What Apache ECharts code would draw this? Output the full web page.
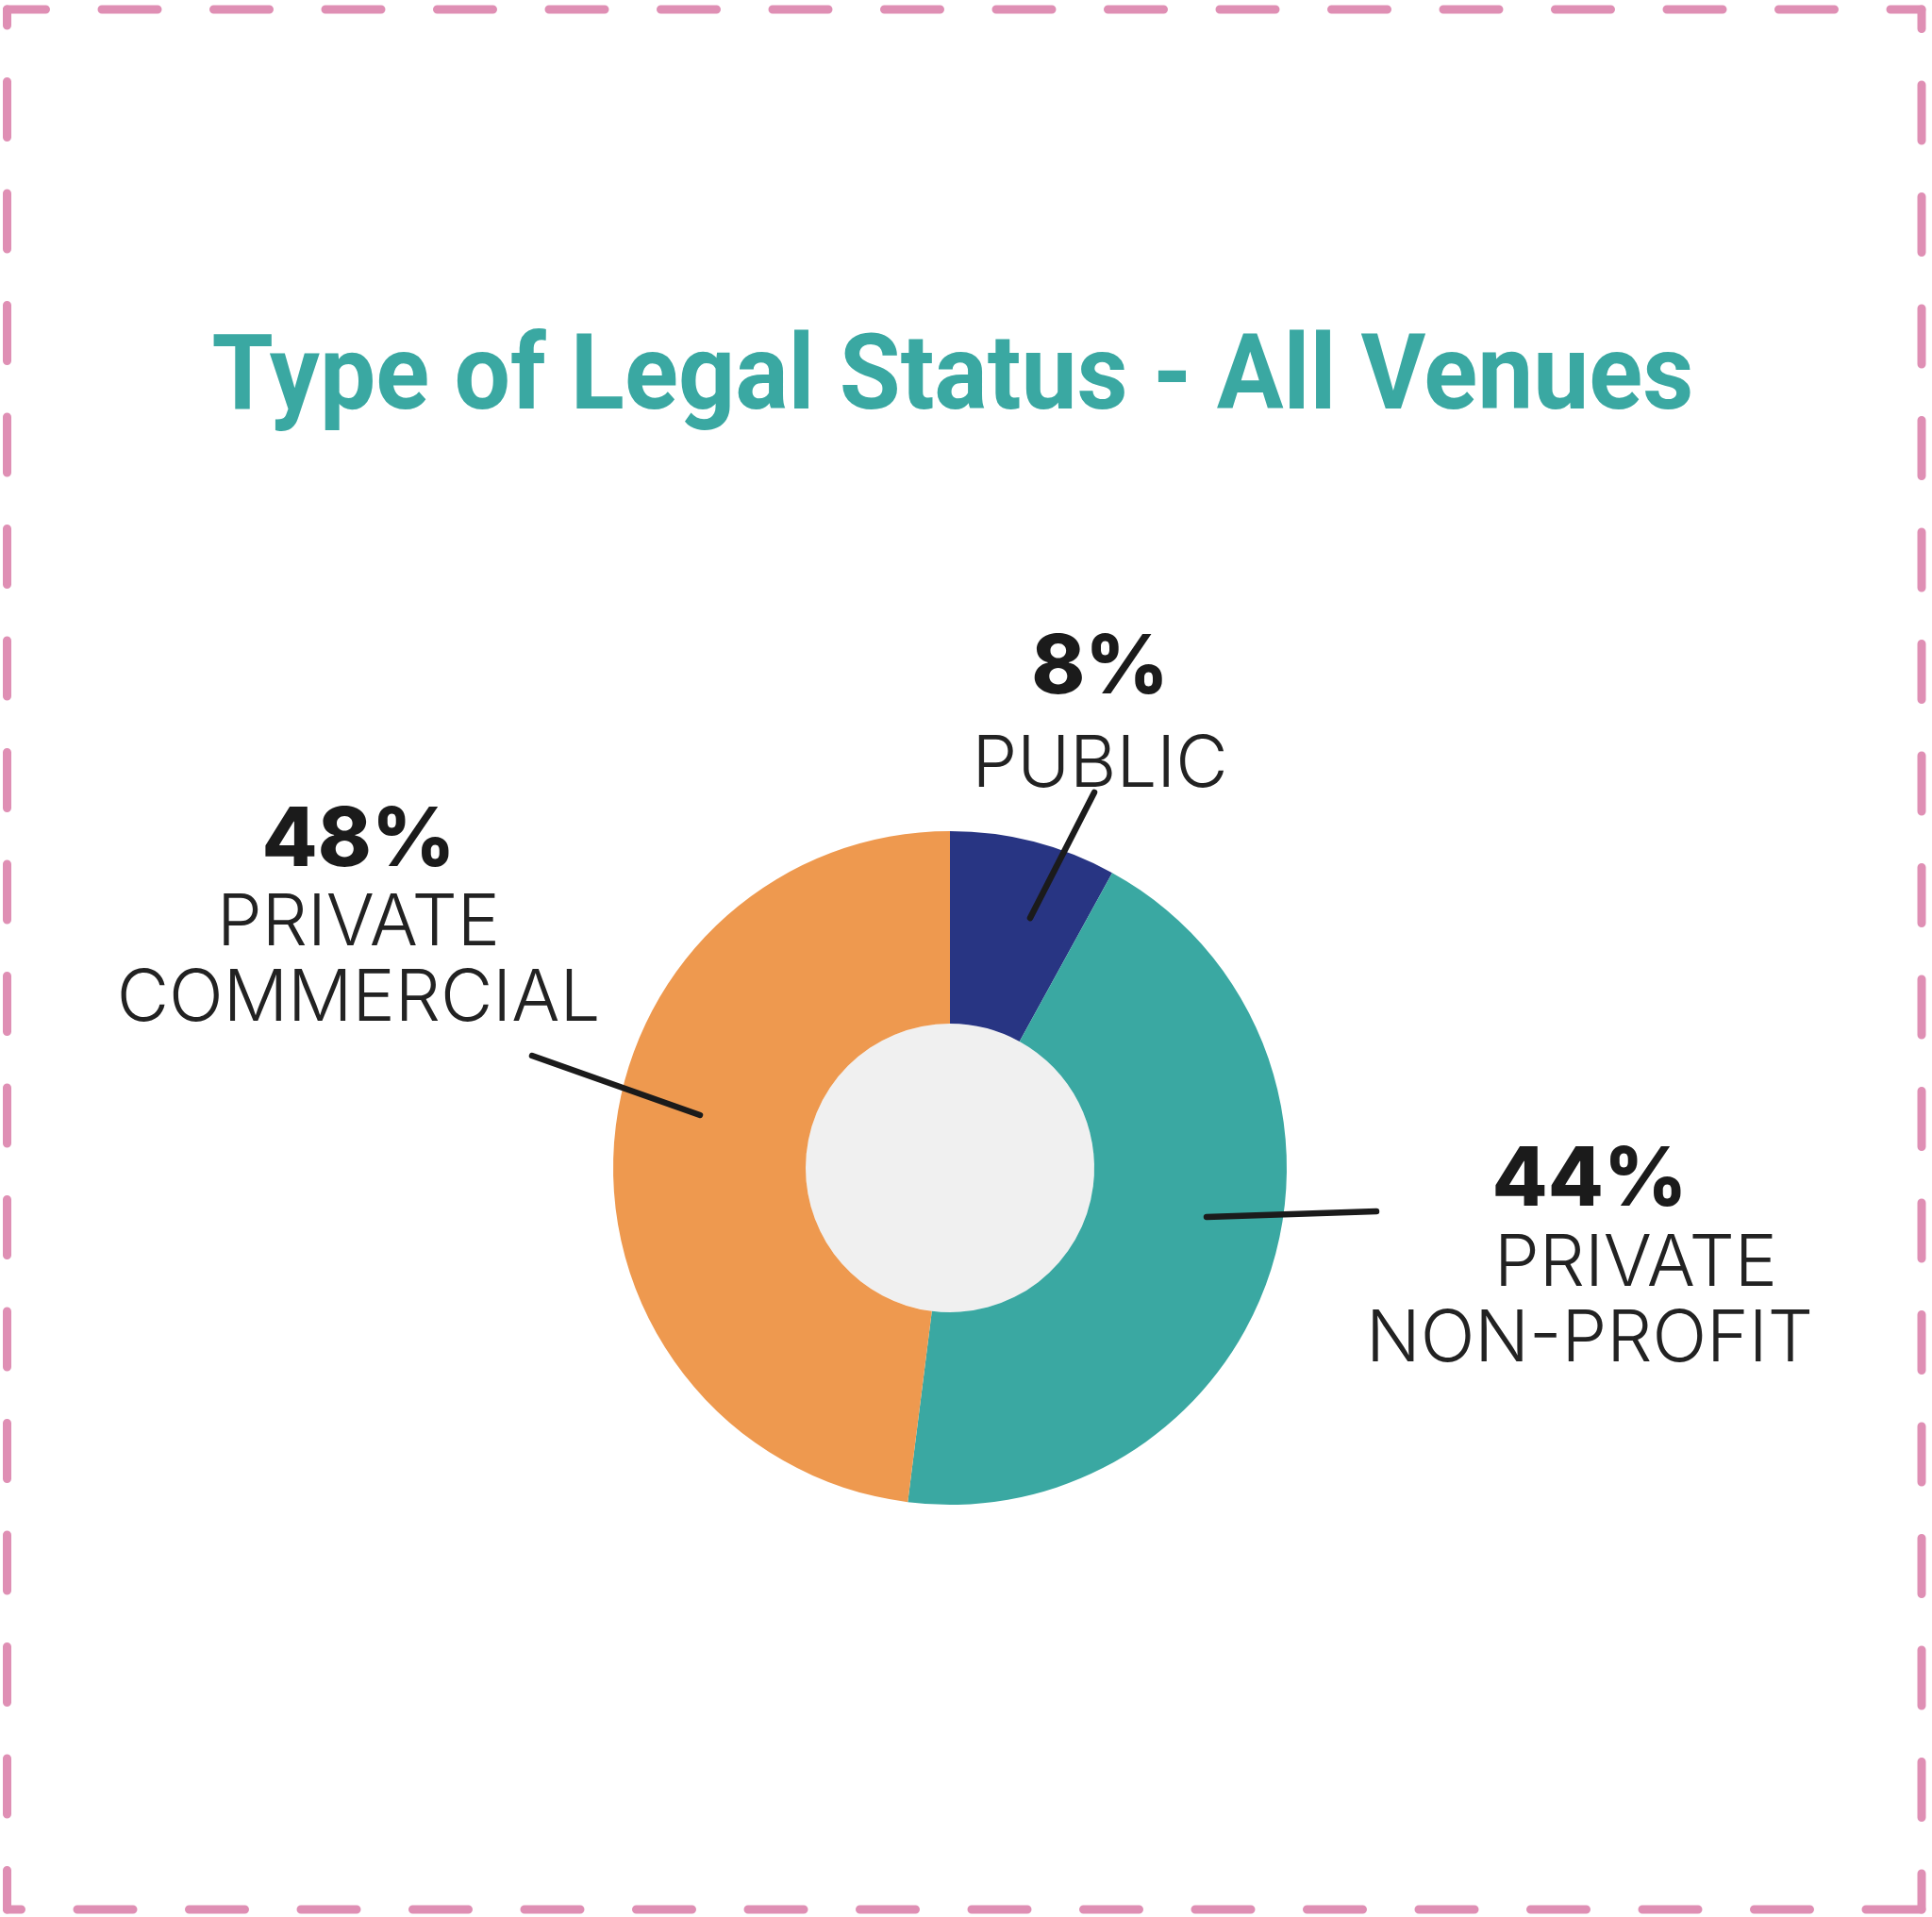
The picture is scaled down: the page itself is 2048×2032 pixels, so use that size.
<!DOCTYPE html>
<html><head><meta charset="utf-8">
<script src="https://cdn.jsdelivr.net/npm/echarts@6/dist/echarts.min.js"></script>
<style>html,body{margin:0;padding:0;background:#fff}#c{width:2048px;height:2032px}</style>
</head><body><div id="c"></div>
<script>
// ---- data ----
const categories = ['PUBLIC', 'PRIVATE NON-PROFIT', 'PRIVATE COMMERCIAL'];
const values = [8, 44, 48];
const nameLines = [['PUBLIC'], ['PRIVATE', 'NON-PROFIT'], ['PRIVATE', 'COMMERCIAL']];
const titleText = 'Type of Legal Status - All Venues';

// ---- styles / layout ----
const colors = ['#283583', '#3aa8a2', '#ee994f'];
const CENTER = [1007, 1238];
const R_IN = 153, R_OUT = 357;
const labelPlacement = [
  { x: 1166, y: 648, pctLH: 123, firstPad: 0, line: [[1092, 973], [1160, 840]] },
  { x: 1685, y: 1204, pctLH: 96, firstPad: 98, line: [[1279, 1290], [1459, 1284]] },
  { x: 380, y: 845, pctLH: 94, firstPad: 0, line: [[742, 1182], [564, 1119]] }
];
const TITLE_FONT_SIZE = 111;
const TITLE_FONT = '700 ' + TITLE_FONT_SIZE + 'px Roboto, "Liberation Sans", sans-serif';
const TITLE_WIDTH = 1571;

// measure title to condense it to the target width
const mctx = document.createElement('canvas').getContext('2d');
mctx.font = TITLE_FONT;
const titleScaleX = TITLE_WIDTH / mctx.measureText(titleText).width;

const chart = echarts.init(document.getElementById('c'), null, { renderer: 'canvas' });

const pieData = categories.map((c, i) => {
  const p = labelPlacement[i];
  const nameStyle = { fontFamily: 'Inter', fontWeight: 300, fontSize: 76, color: '#222', lineHeight: 80, align: 'center' };
  const rich = {
    pct: { fontFamily: 'Inter', fontWeight: 800, fontSize: 86, color: '#1b1b1b', lineHeight: p.pctLH, align: 'center' },
    name: nameStyle,
    first: Object.assign({}, nameStyle, { padding: [0, 0, 0, p.firstPad] })
  };
  const lines = nameLines[i].map((t, k) => (k === 0 && nameLines[i].length > 1 ? '{first|' : '{name|') + t + '}');
  return {
    name: c,
    value: values[i],
    itemStyle: { color: colors[i] },
    label: { formatter: '{pct|' + values[i] + '%}\n' + lines.join('\n'), rich }
  };
});

const bx0 = 7.5, by0 = 10, bx1 = 2037, by1 = 2024;
function borderLine(x1, y1, x2, y2, off) {
  return {
    type: 'line', silent: true,
    shape: { x1, y1, x2, y2 },
    style: { stroke: '#df8fb4', lineWidth: 9, lineCap: 'round', lineDash: [59, 59.5], lineDashOffset: off }
  };
}
const leaderLines = labelPlacement.map(p => ({
  type: 'polyline', silent: true, z: 100,
  shape: { points: p.line },
  style: { stroke: '#1b1b1b', lineWidth: 6.5, lineCap: 'round', fill: null }
}));

chart.setOption({
  backgroundColor: '#ffffff',
  animation: false,
  graphic: [
    borderLine(bx0, by0, bx1, by0, 18),
    borderLine(bx1, by0, bx1, by1, 38.5),
    borderLine(bx1, by1, bx0, by1, 0),
    borderLine(bx0, by1, bx0, by0, 17.5),
    {
      type: 'text', silent: true, x: 1010, y: 405, scaleX: titleScaleX,
      style: {
        text: titleText, fill: '#3aa8a2',
        font: TITLE_FONT,
        textAlign: 'center', textVerticalAlign: 'middle'
      }
    },
    {
      type: 'circle', silent: true, z: -1,
      shape: { cx: CENTER[0], cy: CENTER[1], r: R_IN },
      style: { fill: '#f0f0f0' }
    }
  ].concat(leaderLines),
  series: [{
    type: 'pie',
    center: CENTER,
    radius: [R_IN, R_OUT],
    startAngle: 90,
    clockwise: true,
    avoidLabelOverlap: false,
    silent: true,
    itemStyle: { borderWidth: 0 },
    label: {
      show: true, position: 'outside', width: 700, overflow: 'none', align: 'center'
    },
    labelLine: { show: false },
    labelLayout: function (params) {
      const p = labelPlacement[params.dataIndex];
      return { x: p.x, y: p.y, align: 'center', verticalAlign: 'top' };
    },
    data: pieData
  }]
});
</script>
</body></html>
